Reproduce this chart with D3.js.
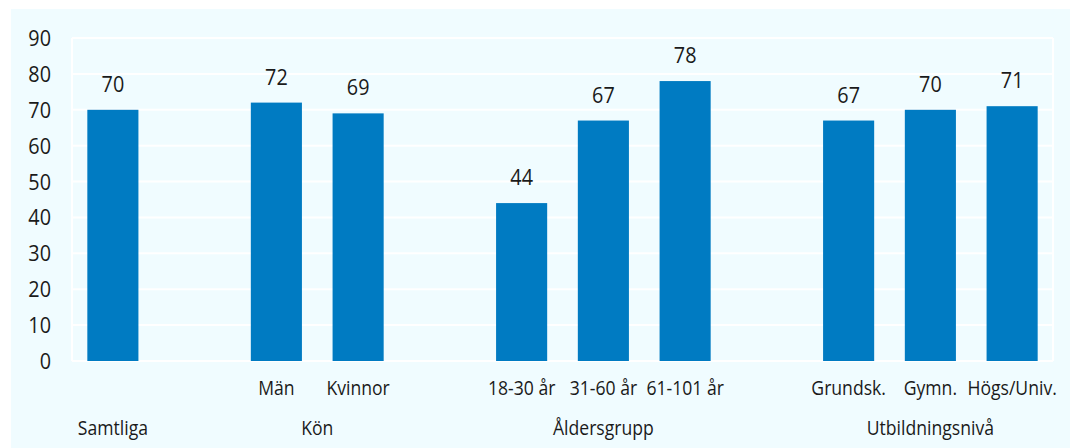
<!DOCTYPE html>
<html>
<head>
<meta charset="utf-8">
<script src="https://cdn.jsdelivr.net/npm/d3@7"></script>
<style>
  body { margin: 0; background: #fff; }
  svg text { font-family: "Open Sans", "Noto Sans", sans-serif; fill: #1a1a1a; }
</style>
</head>
<body>
<div id="chart"></div>
<script>
// slots, the gap entries leave room between groups
const categories = ["Samtliga", "gap1", "Män", "Kvinnor", "gap2", "18-30 år", "31-60 år", "61-101 år", "gap3", "Grundsk.", "Gymn.", "Högs/Univ."];
const barLabels = ["", "", "Män", "Kvinnor", "", "18-30 år", "31-60 år", "61-101 år", "", "Grundsk.", "Gymn.", "Högs/Univ."];
const values = [70, null, 72, 69, null, 44, 67, 78, null, 67, 70, 71];
const groups = [
  { name: "Samtliga", at: "Samtliga" },
  { name: "Kön", from: "Män", to: "Kvinnor" },
  { name: "Åldersgrupp", at: "31-60 år" },
  { name: "Utbildningsnivå", at: "Gymn." }
];
const yTicks = [0, 10, 20, 30, 40, 50, 60, 70, 80, 90];

const W = 1070, H = 448;
const margin = { left: 72, right: 17, top: 38, bottom: 87 };
const squeeze = 0.88; // narrow the font a bit, the original uses a condensed face

const svg = d3.select("#chart").append("svg")
  .attr("width", W).attr("height", H);

// panel background
svg.append("rect")
  .attr("x", 11).attr("y", 9)
  .attr("width", W - 11).attr("height", H - 9)
  .attr("fill", "#f0fcff");

const x = d3.scaleBand()
  .domain(categories)
  .range([margin.left, W - margin.right])
  .paddingInner(0.375).paddingOuter(0.1875);

const y = d3.scaleLinear()
  .domain([0, 90])
  .range([H - margin.bottom, margin.top]);

const place = (px, py) => `translate(${px},${py}) scale(${squeeze},1)`;

// grid
svg.append("g")
  .selectAll("line")
  .data(yTicks)
  .join("line")
  .attr("x1", margin.left).attr("x2", W - margin.right)
  .attr("y1", d => y(d)).attr("y2", d => y(d))
  .attr("stroke", "#fff").attr("stroke-width", 2);

svg.append("g").selectAll("line")
  .data([margin.left, W - margin.right])
  .join("line")
  .attr("x1", d => d).attr("x2", d => d)
  .attr("y1", y(90)).attr("y2", y(0))
  .attr("stroke", "#fff").attr("stroke-width", 2);

// y axis labels
svg.append("g")
  .selectAll("text")
  .data(yTicks)
  .join("text")
  .attr("transform", d => place(51, y(d) + 8))
  .attr("text-anchor", "end")
  .attr("font-size", 22.5)
  .text(d => d);

const data = categories.map((c, i) => ({ c, v: values[i], label: barLabels[i] }));
const bars = data.filter(d => d.v != null);
const center = c => x(c) + x.bandwidth() / 2;

svg.append("g")
  .selectAll("rect")
  .data(bars)
  .join("rect")
  .attr("x", d => x(d.c))
  .attr("y", d => y(d.v))
  .attr("width", x.bandwidth())
  .attr("height", d => y(0) - y(d.v))
  .attr("fill", "#007bc2");

// value labels
svg.append("g")
  .selectAll("text")
  .data(bars)
  .join("text")
  .attr("transform", d => place(center(d.c), y(d.v) - 18))
  .attr("text-anchor", "middle")
  .attr("font-size", 22.5)
  .text(d => d.v);

// category labels
svg.append("g")
  .selectAll("text")
  .data(data.filter(d => d.label))
  .join("text")
  .attr("transform", d => place(center(d.c), 395))
  .attr("text-anchor", "middle")
  .attr("font-size", 20)
  .text(d => d.label);

// group labels
svg.append("g")
  .selectAll("text")
  .data(groups)
  .join("text")
  .attr("transform", g => place(g.at ? center(g.at) : (center(g.from) + center(g.to)) / 2, 435))
  .attr("text-anchor", "middle")
  .attr("font-size", 20)
  .text(g => g.name);
</script>
</body>
</html>
